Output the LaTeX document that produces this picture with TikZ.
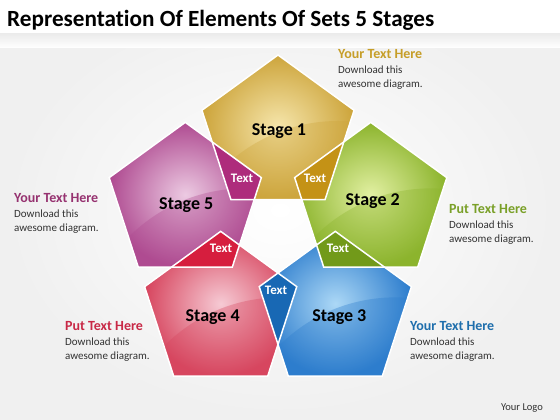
\documentclass[tikz,border=0pt]{standalone}
\usepackage{fontspec}
\setmainfont{Carlito}[Ligatures=NoCommon]
\usetikzlibrary{calc,positioning}
\definecolor{goldA}{RGB}{205,165,60}
\definecolor{goldB}{RGB}{246,230,172}
\definecolor{goldC}{RGB}{196,146,22}
\definecolor{greenA}{RGB}{140,180,45}
\definecolor{greenB}{RGB}{226,240,162}
\definecolor{greenC}{RGB}{114,154,26}
\definecolor{blueA}{RGB}{45,125,205}
\definecolor{blueB}{RGB}{172,216,246}
\definecolor{blueC}{RGB}{24,104,180}
\definecolor{redA}{RGB}{215,70,95}
\definecolor{redB}{RGB}{246,202,212}
\definecolor{redC}{RGB}{214,30,62}
\definecolor{magA}{RGB}{175,75,145}
\definecolor{magB}{RGB}{236,202,226}
\definecolor{magC}{RGB}{174,44,124}
\definecolor{headgold}{RGB}{198,158,40}
\definecolor{headgreen}{RGB}{122,160,40}
\definecolor{headblue}{RGB}{30,110,172}
\definecolor{headred}{RGB}{200,40,70}
\definecolor{headmag}{RGB}{150,50,112}
\definecolor{bodygray}{RGB}{50,50,50}
\def\pentagon[#1](#2){\path[#1,shift={(#2)}] (90:80) -- (162:80) -- (234:80) -- (306:80) -- (18:80) -- cycle;}
\def\headfont{\bfseries\fontsize{14}{16}\selectfont}
\tikzset{
  stagelab/.style={font=\bfseries\fontsize{18}{20}\selectfont, text=black},
  txtlab/.style={font=\bfseries\fontsize{13}{15}\selectfont, text=white},
  infolab/.style={anchor=north west, align=left, inner sep=0pt, text=bodygray, font=\fontsize{11}{14}\selectfont},
}

\begin{document}
\begin{tikzpicture}[x=1pt, y=1pt]
		%%%%% START %%%%%
		
		\useasboundingbox (0,0) rectangle (560,420);
		\shade[inner color=white, outer color=black!6] (0,0) rectangle (560,420);
		\shade[top color=black!8, bottom color=white] (0,372) rectangle (560,387);
		\fill[white] (0,387) rectangle (560,420);
		
		\node[anchor=base west, inner sep=0pt, font=\bfseries\fontsize{23.2}{26}\selectfont] (title) at (7,393) {Representation Of Elements Of Sets 5 Stages};
		
		\coordinate (O) at (278,187.5);
		\coordinate (C1) at ($(O)+(90:97.5)$);
		\coordinate (C2) at ($(O)+(18:97.5)$);
		\coordinate (C3) at ($(O)+(-54:97.5)$);
		\coordinate (C4) at ($(O)+(-126:97.5)$);
		\coordinate (C5) at ($(O)+(162:97.5)$);
		
		% the five pentagons
		\pentagon[shade, inner color=goldB, outer color=goldA](C1)
		\pentagon[shade, inner color=greenB, outer color=greenA](C2)
		\pentagon[shade, inner color=blueB, outer color=blueA](C3)
		\pentagon[shade, inner color=redB, outer color=redA](C4)
		\pentagon[shade, inner color=magB, outer color=magA](C5)
		
		% gloss
		\begin{scope}
			\pentagon[clip](C1)
			\fill[goldA, opacity=0.35] ($(C1)+(60,-150)$) circle (164);
		\end{scope}
		\begin{scope}
			\pentagon[clip](C2)
			\fill[greenA, opacity=0.35] ($(C2)+(60,-150)$) circle (164);
		\end{scope}
		\begin{scope}
			\pentagon[clip](C3)
			\fill[blueA, opacity=0.35] ($(C3)+(60,-150)$) circle (164);
		\end{scope}
		\begin{scope}
			\pentagon[clip](C4)
			\fill[redA, opacity=0.35] ($(C4)+(60,-150)$) circle (164);
		\end{scope}
		\begin{scope}
			\pentagon[clip](C5)
			\fill[magA, opacity=0.35] ($(C5)+(60,-150)$) circle (164);
		\end{scope}
		
		% overlaps
		\begin{scope}
			\pentagon[clip](C1)
			\pentagon[fill=goldC](C2)
		\end{scope}
		\begin{scope}
			\pentagon[clip](C2)
			\pentagon[fill=greenC](C3)
		\end{scope}
		\begin{scope}
			\pentagon[clip](C3)
			\pentagon[fill=blueC](C4)
		\end{scope}
		\begin{scope}
			\pentagon[clip](C4)
			\pentagon[fill=redC](C5)
		\end{scope}
		\begin{scope}
			\pentagon[clip](C5)
			\pentagon[fill=magC](C1)
		\end{scope}
		
		\pentagon[draw=white, line width=1.5pt](C1)
		\pentagon[draw=white, line width=1.5pt](C2)
		\pentagon[draw=white, line width=1.5pt](C3)
		\pentagon[draw=white, line width=1.5pt](C4)
		\pentagon[draw=white, line width=1.5pt](C5)
		
		\node[stagelab] (s1) at ($(C1)+(1,4)$) {Stage 1};
		\node[stagelab] (s2) at ($(C2)+(2,1)$) {Stage 2};
		\node[stagelab] (s3) at ($(C3)+(4,-6)$) {Stage 3};
		\node[stagelab] (s4) at ($(C4)+(-8,-6)$) {Stage 4};
		\node[stagelab] (s5) at ($(C5)+(1,-3)$) {Stage 5};
		
		\node[txtlab] (t12) at (315,242) {Text};
		\node[txtlab] (t23) at (338,172) {Text};
		\node[txtlab] (t34) at (276,130) {Text};
		\node[txtlab] (t45) at (221,172) {Text};
		\node[txtlab] (t51) at (242,242) {Text};
		
		\node[infolab] (i1) at (338,371) {{\headfont\color{headgold}Your Text Here}\\[1.5pt]Download this\\awesome diagram.};
		\node[infolab] (i2) at (449,216) {{\headfont\color{headgreen}Put Text Here}\\[1.5pt]Download this\\awesome diagram.};
		\node[infolab] (i3) at (410,99) {{\headfont\color{headblue}Your Text Here}\\[1.5pt]Download this\\awesome diagram.};
		\node[infolab] (i4) at (65,99) {{\headfont\color{headred}Put Text Here}\\[1.5pt]Download this\\awesome diagram.};
		\node[infolab] (i5) at (14,227) {{\headfont\color{headmag}Your Text Here}\\[1.5pt]Download this\\awesome diagram.};
		
		\node[font=\fontsize{10.5}{12}\selectfont, text=bodygray] (logo) at (522,12) {Your Logo};
		
		%%%%% END %%%%%
	\end{tikzpicture}
\end{document}
